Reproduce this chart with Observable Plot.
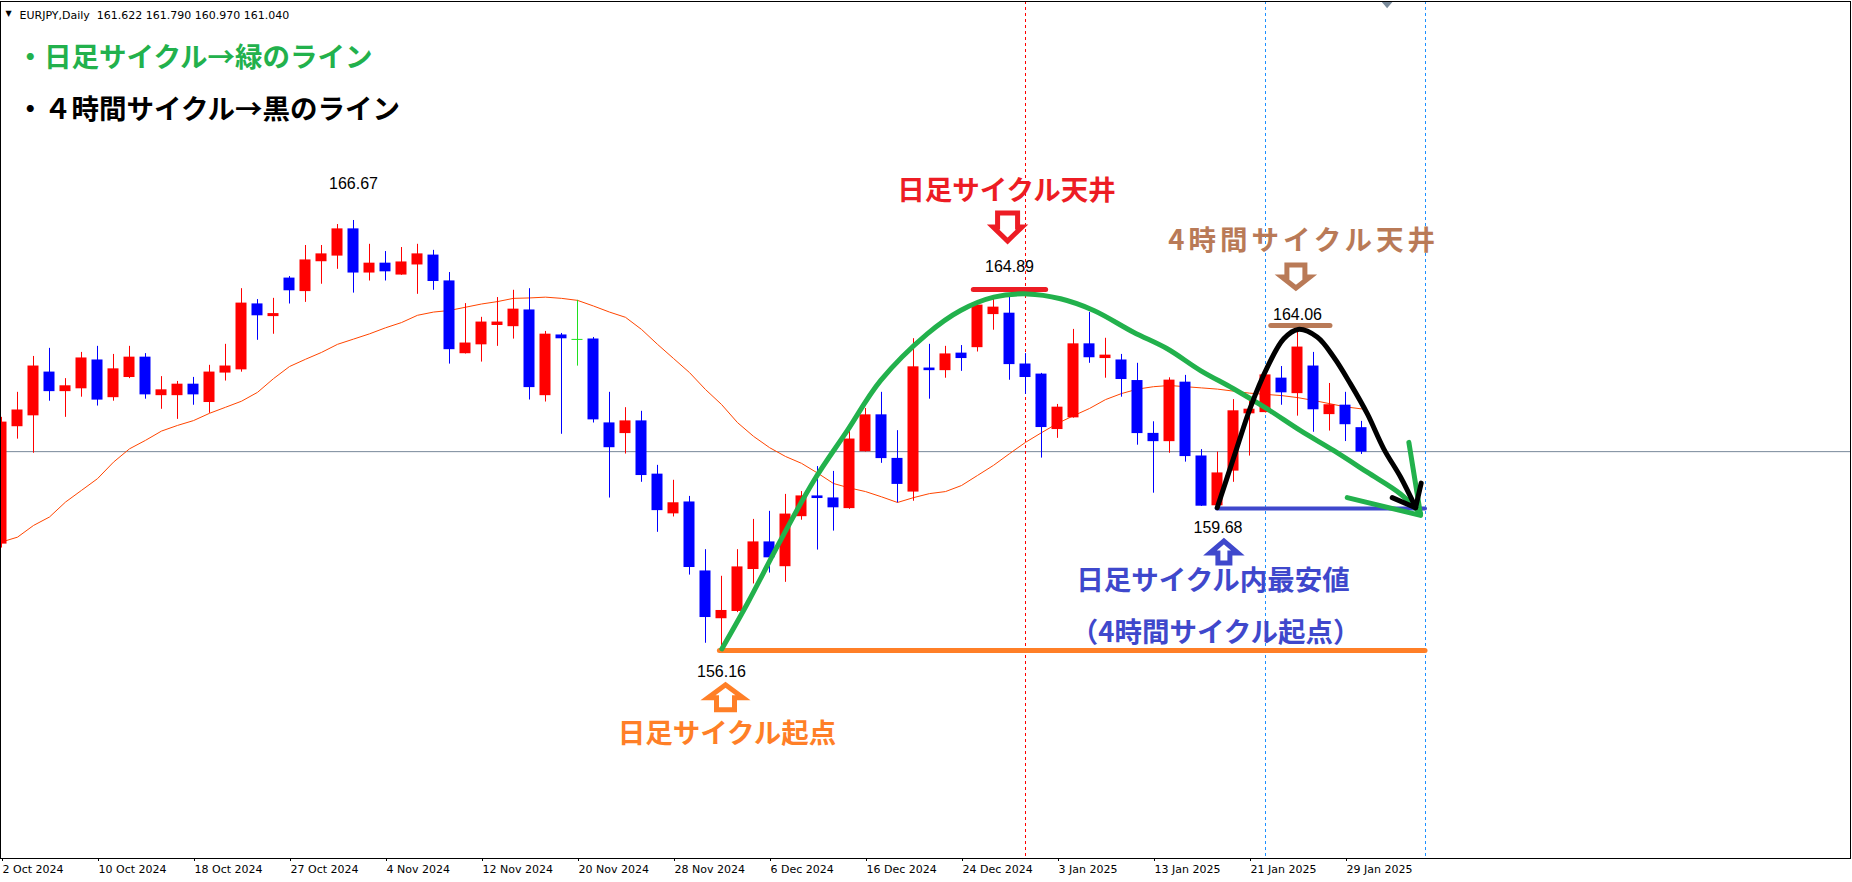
<!DOCTYPE html>
<html>
<head>
<meta charset="utf-8">
<script src="https://cdn.jsdelivr.net/npm/d3@7"></script>
<script src="https://cdn.jsdelivr.net/npm/@observablehq/plot@0.6"></script>
<style>
html, body { margin: 0; padding: 0; background: #fff; }
#chart svg { display: block; }
</style>
</head>
<body>
<div id="chart"></div>
<script>
// ---- Daily EURJPY bars (bar index 0 = 2 Oct 2024) ----
const open  = [158.76,161.67,161.94,163.00,162.54,162.61,163.30,162.39,162.89,163.37,162.44,162.44,162.70,162.27,163.00,163.08,164.69,164.40,165.33,165.02,165.76,165.90,166.55,165.48,165.70,165.43,165.68,165.90,165.26,163.48,163.70,164.18,164.15,164.54,162.44,163.92,163.81,163.82,161.74,161.50,161.79,160.47,159.51,159.78,158.07,156.91,157.09,158.13,158.79,158.20,159.44,159.93,159.88,159.64,161.05,161.94,160.86,160.05,163.10,163.06,163.47,163.63,164.45,164.46,163.20,162.95,161.60,161.89,163.70,163.36,163.30,162.79,161.48,161.30,162.75,160.92,159.71,160.57,161.99,162.02,162.85,162.49,163.15,161.97,162.18,161.622];
const high  = [161.89,162.51,163.40,163.60,162.85,163.50,163.65,163.45,163.65,163.47,162.90,162.78,162.88,163.18,163.70,165.08,164.81,164.84,165.38,166.15,166.15,166.67,166.77,166.18,166.00,166.10,166.18,166.03,165.48,164.71,164.37,164.86,165.04,165.08,164.02,163.97,164.79,163.87,162.51,162.13,162.04,160.70,160.33,159.93,158.61,157.95,158.61,159.36,159.56,159.98,160.05,160.67,160.55,161.56,162.11,162.51,161.56,163.84,163.70,163.65,163.67,164.76,164.84,164.89,163.47,162.98,162.21,164.07,164.49,163.85,163.45,163.23,161.78,162.87,162.93,161.09,161.03,162.33,162.31,163.00,163.15,164.06,163.50,162.73,162.51,161.790];
const low   = [158.65,161.35,161.00,162.29,161.89,162.39,162.17,162.29,162.85,162.34,162.09,161.84,162.19,161.99,162.79,163.01,163.80,163.95,164.70,164.74,165.19,165.56,164.97,165.27,165.27,165.41,164.94,165.04,163.21,163.46,163.26,163.65,163.83,162.32,162.27,161.47,163.16,161.75,159.89,160.98,160.28,159.04,159.42,157.98,156.29,156.16,157.05,157.76,158.03,157.80,159.34,158.60,159.07,159.61,161.03,160.75,159.77,159.81,162.34,162.86,163.03,163.51,164.05,162.81,162.46,160.88,161.37,161.87,163.23,162.86,162.39,161.20,160.01,161.00,160.78,159.68,159.70,160.28,160.93,162.00,162.19,161.92,161.52,161.55,161.29,160.970];
const close = [161.76,162.06,163.15,162.54,162.66,163.35,162.33,163.08,163.37,162.46,162.56,162.70,162.46,163.00,163.15,164.71,164.42,164.45,165.04,165.78,165.93,166.55,165.48,165.70,165.51,165.73,165.93,165.27,163.58,163.72,164.24,164.24,164.56,162.64,163.94,163.85,163.81,161.84,161.15,161.79,160.46,159.59,159.76,158.18,156.94,157.09,158.17,158.79,158.42,159.48,159.93,159.89,159.66,161.34,161.94,160.88,160.24,163.13,163.06,163.45,163.36,164.66,164.61,163.21,162.89,161.65,162.13,163.70,163.38,163.42,162.84,161.50,161.30,162.80,160.93,159.70,160.50,162.04,162.08,162.93,162.51,163.62,162.09,162.19,161.72,161.040];
// moving average as drawn on the chart
const movingAvg = [158.80,158.92,159.21,159.42,159.79,160.08,160.37,160.78,161.11,161.32,161.55,161.69,161.81,161.99,162.14,162.29,162.51,162.85,163.15,163.33,163.50,163.70,163.83,163.96,164.11,164.24,164.42,164.50,164.54,164.62,164.70,164.76,164.84,164.85,164.87,164.84,164.79,164.65,164.50,164.37,164.07,163.70,163.35,163.00,162.58,162.21,161.76,161.42,161.14,160.92,160.75,160.51,160.25,160.14,160.05,159.92,159.78,159.90,160.00,160.05,160.20,160.45,160.70,160.99,161.27,161.51,161.74,161.93,162.11,162.33,162.48,162.59,162.65,162.68,162.65,162.62,162.59,162.54,162.49,162.46,162.43,162.38,162.31,162.23,162.15,162.10];

// ---- time axis ----
const tickIndex  = [0,6,12,18,24,30,36,42,48,54,60,66,72,78,84];
const tickLabels = ["2 Oct 2024","10 Oct 2024","18 Oct 2024","27 Oct 2024","4 Nov 2024","12 Nov 2024","20 Nov 2024","28 Nov 2024","6 Dec 2024","16 Dec 2024","24 Dec 2024","3 Jan 2025","13 Jan 2025","21 Jan 2025","29 Jan 2025"];

// ---- chart header ----
const header = "EURJPY,Daily  161.622 161.790 160.970 161.040";
const bidPrice = [161.040];
const redVLines = [64];
const blueVLines = [79, 89];
const shiftMarker = [[86.6, 172.12]];

// ---- annotations (bar index, price) ----
const greenCurve = [[45.02,156.15],[46.61,157.27],[48.69,158.84],[50.77,160.32],[52.86,161.56],[54.94,162.80],[57.86,163.96],[59.94,164.54],[62.02,164.87],[64.11,164.95],[66.19,164.83],[68.27,164.54],[70.75,164.00],[72.86,163.59],[74.94,163.05],[77.00,162.60],[79.11,162.10],[81.19,161.56],[83.25,161.07],[85.36,160.53],[87.44,159.99],[88.69,159.50]];
const greenHeadA = [[87.96,161.27],[88.69,159.48]];
const greenHeadB = [[84.11,159.90],[88.69,159.46]];
const blackCurve = [[75.98,159.65],[77.02,160.90],[78.06,162.14],[79.11,163.13],[80.14,163.84],[81.04,164.07],[82.23,163.88],[83.27,163.38],[84.31,162.72],[85.36,161.98],[86.39,161.11],[87.44,160.41],[88.38,159.66]];
const blackHeadA = [[86.92,159.90],[88.38,159.65]];
const blackHeadB = [[88.73,160.26],[88.38,159.65]];
const levelLines = [
  {x1: 44.9, x2: 89.0, y: 156.11, color: "#ff7f27", w: 5},
  {x1: 75.98, x2: 89.0, y: 159.63, color: "#3f48cc", w: 4},
  {x1: 60.77, x2: 65.29, y: 165.06, color: "#ed1c24", w: 5},
  {x1: 79.36, x2: 83.06, y: 164.17, color: "#b97a57", w: 5}
];
const priceLabels = [
  {x: 22.0, y: 167.68, t: "166.67"},
  {x: 63.0, y: 165.62, t: "164.89"},
  {x: 81.0, y: 164.42, t: "164.06"},
  {x: 76.03, y: 159.15, t: "159.68"},
  {x: 45.0, y: 155.59, t: "156.16"}
];
const jpLabels = [
  {x: 62.81, y: 167.49, t: "日足サイクル天井", color: "#ed1c24"},
  {x: 75.72, y: 157.82, t: "日足サイクル内最安値", color: "#3f48cc"},
  {x: 75.88, y: 156.54, t: "（4時間サイクル起点）", color: "#3f48cc"},
  {x: 45.34, y: 154.04, t: "日足サイクル起点", color: "#ff7f27"}
];
const brownLabel = [{x: 81.38, y: 166.25, t: "4時間サイクル天井", color: "#b97a57"}];
const arrows = [
  {x: 62.88, y: 166.61, dir: "down", color: "#ed1c24", w: 29, h: 28, head: 14, shaft: 20},
  {x: 80.9,  y: 165.38, dir: "down", color: "#b97a57", w: 28, h: 23, head: 11, shaft: 18},
  {x: 76.4,  y: 158.55, dir: "up",   color: "#3f48cc", w: 28, h: 22, head: 12, shaft: 12},
  {x: 45.25, y: 154.95, dir: "up",   color: "#ff7f27", w: 35, h: 25, head: 13, shaft: 18}
];
const legendGreen = "・日足サイクル→緑のライン";
const legendBlack = "・４時間サイクル→黒のライン";

// ---- build ----
const bars = open.map((o, i) => ({i, o, h: high[i], l: low[i], c: close[i], ma: movingAvg[i]}));
const barColor = d => d.c > d.o ? "#ff0000" : d.c < d.o ? "#0000ff" : "#20e020";

function arrowSymbol(a) {
  return {
    draw(ctx) {
      const s = a.dir === "down" ? 1 : -1;
      const hw = a.w / 2, sw = a.shaft / 2;
      const yt = -s * a.h / 2, yp = s * a.h / 2, yj = s * (a.h / 2 - a.head);
      ctx.moveTo(-sw, yt); ctx.lineTo(sw, yt); ctx.lineTo(sw, yj); ctx.lineTo(hw, yj);
      ctx.lineTo(0, yp); ctx.lineTo(-hw, yj); ctx.lineTo(-sw, yj); ctx.closePath();
    }
  };
}
const triangleDown = {draw(ctx) { ctx.moveTo(-5.5, -3); ctx.lineTo(5.5, -3); ctx.lineTo(0, 3.5); ctx.closePath(); }};

const pt = {x: d => d[0], y: d => d[1]};
const jpFont = "'Noto Sans CJK JP', 'Noto Sans CJK SC', sans-serif";
const jpText = {fontSize: 27.5, fontWeight: "bold", fontFamily: jpFont};

const chart = Plot.plot({
  width: 1852,
  height: 882,
  marginTop: 1,
  marginRight: 2,
  marginBottom: 24,
  marginLeft: 0,
  x: {type: "linear", domain: [-0.0625, 115.5625]},
  y: {domain: [150.954, 172.199], axis: null},
  style: {background: "#fff", fontFamily: "'DejaVu Sans', sans-serif", fontSize: "11px", color: "#000"},
  marks: [
    Plot.ruleY(bidPrice, {stroke: "#778899", strokeWidth: 1}),
    Plot.ruleX(redVLines, {stroke: "#ff0000", strokeDasharray: "3,3"}),
    Plot.ruleX(blueVLines, {stroke: "#1e90ff", strokeDasharray: "3,3"}),
    Plot.line(bars, {x: "i", y: "ma", stroke: "#ff4500", strokeWidth: 1}),
    Plot.ruleX(bars, {x: "i", y1: "l", y2: "h", stroke: barColor, strokeWidth: 1}),
    Plot.rect(bars, {x1: d => d.i - 0.5, x2: d => d.i + 0.5, y1: "o", y2: "c", fill: barColor,
      insetLeft: 2.5, insetRight: 2.5, insetTop: -0.5, insetBottom: -0.5}),
    ...levelLines.map(L => Plot.ruleY([L], {y: "y", x1: "x1", x2: "x2", stroke: L.color, strokeWidth: L.w, strokeLinecap: "round"})),
    Plot.line(greenCurve, {...pt, stroke: "#22b14c", strokeWidth: 5, curve: "catmull-rom", strokeLinecap: "round"}),
    Plot.line(greenHeadA, {...pt, stroke: "#22b14c", strokeWidth: 5, strokeLinecap: "round"}),
    Plot.line(greenHeadB, {...pt, stroke: "#22b14c", strokeWidth: 5, strokeLinecap: "round"}),
    Plot.line(blackCurve, {...pt, stroke: "#000", strokeWidth: 5, curve: "catmull-rom", strokeLinecap: "round"}),
    Plot.line(blackHeadA, {...pt, stroke: "#000", strokeWidth: 5, strokeLinecap: "round"}),
    Plot.line(blackHeadB, {...pt, stroke: "#000", strokeWidth: 5, strokeLinecap: "round"}),
    ...arrows.map(a => Plot.dot([a], {x: "x", y: "y", symbol: arrowSymbol(a), r: 10, fill: "#fff", stroke: a.color, strokeWidth: 5, strokeLinejoin: "miter"})),
    Plot.text(priceLabels, {x: "x", y: "y", text: "t", fill: "#000", fontSize: 16, fontFamily: "'Liberation Sans', Arial, sans-serif"}),
    Plot.text(jpLabels, {x: "x", y: "y", text: "t", fill: d => d.color, ...jpText}),
    Plot.text(brownLabel, {x: "x", y: "y", text: "t", fill: d => d.color, ...jpText, className: "brown-label"}),
    Plot.dot(shiftMarker, {...pt, symbol: triangleDown, r: 5, fill: "#7a8a9a", stroke: "none"}),
    Plot.text([header], {frameAnchor: "top-left", dx: 19, dy: 10, textAnchor: "start", fill: "#000", fontSize: 11}),
    Plot.text(["▼"], {frameAnchor: "top-left", dx: 5, dy: 9, textAnchor: "start", fill: "#000", fontSize: 8}),
    Plot.text([legendGreen], {frameAnchor: "top-left", dx: 16, dy: 46, textAnchor: "start", fill: "#22b14c", ...jpText}),
    Plot.text([legendBlack], {frameAnchor: "top-left", dx: 16, dy: 98, textAnchor: "start", fill: "#000", ...jpText}),
    Plot.frame({stroke: "#000"}),
    Plot.axisX(tickIndex, {anchor: "bottom", tickSize: 3, tickPadding: 4, textAnchor: "start", dx: 1,
      tickFormat: d => tickLabels[tickIndex.indexOf(d)], fontSize: 11, label: null})
  ]
});
chart.querySelectorAll(".brown-label text, g.brown-label text").forEach(t => t.setAttribute("letter-spacing", "4"));
document.getElementById("chart").appendChild(chart);
</script>
</body>
</html>
